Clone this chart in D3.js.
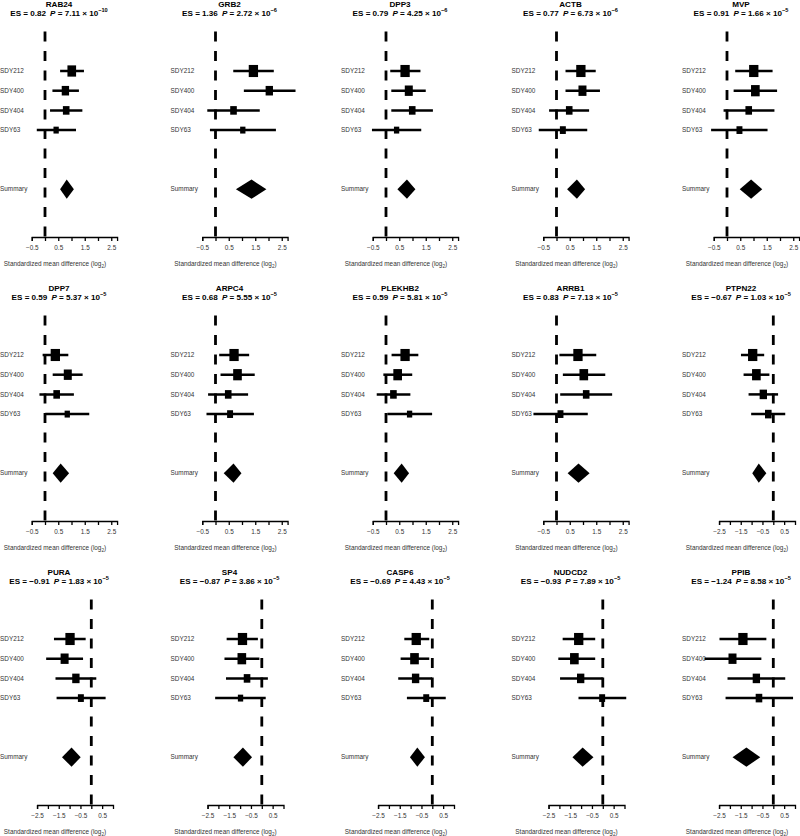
<!DOCTYPE html>
<html><head><meta charset="utf-8">
<script src="https://cdn.jsdelivr.net/npm/d3@7"></script>
<style>body{margin:0;background:#fff} svg{display:block}</style>
</head><body>
<svg id="chart" width="800" height="836"></svg>
<script>
// ---------------- DATA ----------------
const genes = ["RAB24","GRB2","DPP3","ACTB","MVP","DPP7","ARPC4","PLEKHB2","ARRB1","PTPN22","PURA","SP4","CASP6","NUDCD2","PPIB"];
const effectSizes = [0.82,1.36,0.79,0.77,0.91,0.59,0.68,0.59,0.83,-0.67,-0.91,-0.87,-0.69,-0.93,-1.24];
const pMantissa = ["7.11","2.72","4.25","6.73","1.66","5.37","5.55","5.81","7.13","1.03","1.83","3.86","4.43","7.89","8.58"];
const pExponent = [-10,-6,-6,-6,-5,-5,-5,-5,-5,-5,-5,-5,-5,-5,-5];
const studies = ["SDY212","SDY400","SDY404","SDY63"];
const summaryLabel = "Summary";
const estimates = [
  [1.01,0.77,0.80,0.42],
  [1.43,2.03,0.68,1.03],
  [0.72,0.86,0.99,0.40],
  [0.92,0.98,0.48,0.24],
  [1.01,1.07,0.82,0.47],
  [0.39,0.86,0.44,0.84],
  [0.70,0.83,0.48,0.55],
  [0.72,0.44,0.28,0.89],
  [0.81,1.03,1.12,0.15],
  [-0.95,-0.78,-0.46,-0.23],
  [-0.98,-1.23,-0.71,-0.48],
  [-0.89,-0.92,-0.68,-0.98],
  [-0.74,-0.82,-0.77,-0.28],
  [-1.11,-1.31,-1.02,-0.03],
  [-1.40,-1.88,-0.78,-0.66]
];
const ciLower = [
  [0.57,0.28,0.19,-0.31],
  [0.67,1.07,-0.31,-0.21],
  [0.16,0.20,0.20,-0.53],
  [0.34,0.34,-0.28,-0.67],
  [0.31,0.25,-0.13,-0.60],
  [-0.09,0.29,-0.21,0.01],
  [0.14,0.19,-0.28,-0.34],
  [0.21,-0.10,-0.35,0.05],
  [0.11,0.24,0.14,-0.87],
  [-1.49,-1.37,-1.14,-1.02],
  [-1.72,-2.08,-1.65,-1.60],
  [-1.62,-1.72,-1.65,-2.15],
  [-1.29,-1.46,-1.57,-1.17],
  [-1.85,-2.05,-1.97,-1.12],
  [-2.48,-3.17,-2.11,-2.20]
];
const ciUpper = [
  [1.47,1.28,1.41,1.17],
  [2.20,3.02,1.67,2.28],
  [1.30,1.50,1.77,1.33],
  [1.48,1.64,1.23,1.16],
  [1.72,1.89,1.79,1.53],
  [0.88,1.42,1.09,1.67],
  [1.27,1.48,1.23,1.45],
  [1.22,0.99,0.92,1.74],
  [1.50,1.84,2.10,1.18],
  [-0.42,-0.18,0.22,0.55],
  [-0.26,-0.38,0.23,0.66],
  [-0.18,-0.11,0.28,0.18],
  [-0.14,-0.14,-0.01,0.62],
  [-0.35,-0.35,0.00,1.08],
  [-0.32,-0.55,0.55,0.91]
];
const boxWeights = [
  [0.93,0.79,0.71,0.57],
  [1.00,0.79,0.71,0.57],
  [1.00,0.86,0.71,0.57],
  [1.00,0.86,0.71,0.64],
  [1.00,0.93,0.71,0.64],
  [1.00,0.86,0.71,0.57],
  [1.00,0.93,0.71,0.64],
  [1.00,0.93,0.71,0.57],
  [1.00,0.93,0.71,0.64],
  [1.00,0.93,0.79,0.71],
  [1.00,0.86,0.79,0.64],
  [1.00,0.93,0.71,0.57],
  [1.00,0.93,0.79,0.64],
  [1.00,0.93,0.79,0.64],
  [1.00,0.86,0.79,0.71]
];
const summaryLower = [0.57,0.77,0.43,0.40,0.48,0.29,0.31,0.29,0.42,-0.97,-1.35,-1.31,-1.03,-1.40,-1.88];
const summaryUpper = [1.09,1.92,1.11,1.08,1.33,0.91,0.98,0.87,1.25,-0.32,-0.49,-0.45,-0.34,-0.43,-0.60];
const posDomain = [-0.5, 2.72];
const negDomain = [-2.5, 1.0];
const posTicks = [-0.5,0,0.5,1,1.5,2,2.5];
const negTicks = [-2.5,-2,-1.5,-1,-0.5,0,0.5];
const posTickLabels = [-0.5,0.5,1.5,2.5];
const negTickLabels = [-2.5,-1.5,-0.5,0.5];
const xAxisTitle = "Standardized mean difference (log";

// ---------------- LAYOUT ----------------
const svg = d3.select("#chart");
const colPitch = 170.5, rowPitch = 284;
const FONT = "'Liberation Sans', Arial, Helvetica, sans-serif";
const fmt = v => (v < 0 ? "\u2212" : "") + Math.abs(v).toFixed(1);
const fmt2 = v => (v < 0 ? "\u2212" : "") + Math.abs(v).toFixed(2);
const yScale = d3.scaleLinear().domain([0, 7]).range([51.3, 51.3 + 19.7 * 7]);
const boxScale = d3.scaleLinear().domain([0, 1]).range([0, 9.3]);
const axisY = 237;

genes.forEach((gene, g) => {
  const col = g % 5, row = Math.floor(g / 5);
  const neg = effectSizes[g] < 0;
  const gp = svg.append("g").attr("transform", `translate(${col * colPitch},${row * rowPitch})`);
  const x = neg
    ? d3.scaleLinear().domain(negDomain).range([91.3 - 2.5 * 21.7, 91.3 + 1.0 * 21.7])
    : d3.scaleLinear().domain(posDomain).range([45 - 0.5 * 26.5, 45 + 2.72 * 26.5]);
  const ticks = neg ? negTicks : posTicks;
  const tickLabels = neg ? negTickLabels : posTickLabels;

  // titles
  gp.append("text").attr("x", 59).attr("y", 6.5).attr("text-anchor", "middle")
    .attr("font-family", FONT).attr("font-weight", "bold").attr("font-size", 8.1).attr("fill", "#000")
    .text(gene);
  const t2 = gp.append("text").attr("x", 59).attr("y", 15.5).attr("text-anchor", "middle")
    .attr("font-family", FONT).attr("font-weight", "bold").attr("font-size", 8.1).attr("fill", "#000");
  t2.append("tspan").text("ES = " + fmt2(effectSizes[g]));
  t2.append("tspan").attr("dx", 4).attr("font-style", "italic").text("P");
  t2.append("tspan").text(" = " + pMantissa[g] + " \u00d7 10");
  t2.append("tspan").attr("dy", -3.2).attr("font-size", 5.6).text("\u2212" + Math.abs(pExponent[g]));

  // zero dashed line
  gp.append("line").attr("x1", x(0)).attr("x2", x(0)).attr("y1", yScale(-1)).attr("y2", axisY)
    .attr("stroke", "#000").attr("stroke-width", 2.8).attr("stroke-dasharray", "10,9.5");

  // study rows
  studies.forEach((s, i) => {
    const yy = yScale(i + 1);
    gp.append("text").attr("x", 0).attr("y", yy).attr("dy", "0.35em")
      .attr("font-family", FONT).attr("font-size", 6.4).attr("fill", "#333").text(s);
    gp.append("line").attr("x1", x(ciLower[g][i])).attr("x2", x(ciUpper[g][i]))
      .attr("y1", yy).attr("y2", yy).attr("stroke", "#000").attr("stroke-width", 2.5);
    const w = boxScale(boxWeights[g][i]), h = w * 1.3;
    gp.append("rect").attr("x", x(estimates[g][i]) - w / 2).attr("y", yy - h / 2)
      .attr("width", w).attr("height", h).attr("fill", "#000");
  });

  // summary
  const ys = yScale(7);
  gp.append("text").attr("x", 0).attr("y", ys).attr("dy", "0.35em")
    .attr("font-family", FONT).attr("font-size", 6.4).attr("fill", "#333").text(summaryLabel);
  const dh = 9.6;
  gp.append("path")
    .attr("d", `M${x(summaryLower[g])},${ys} L${x(effectSizes[g])},${ys - dh} L${x(summaryUpper[g])},${ys} L${x(effectSizes[g])},${ys + dh} Z`)
    .attr("fill", "#000");

  // axis
  const ax = gp.append("g").attr("transform", `translate(0,${axisY})`)
    .call(d3.axisBottom(x).tickValues(ticks).tickSize(4).tickSizeOuter(4)
      .tickFormat(d => tickLabels.includes(d) ? fmt(d) : ""));
  ax.select(".domain").attr("stroke", "#000").attr("stroke-width", 1.3);
  ax.selectAll(".tick line").attr("stroke", "#000").attr("stroke-width", 1.3);
  ax.selectAll(".tick text").attr("y", 11).attr("dy", "0.35em")
    .attr("font-family", FONT).attr("font-size", 6.4).attr("fill", "#333");

  // x axis title
  const xt = gp.append("text").attr("x", 55).attr("y", 264).attr("dy", "0.35em").attr("text-anchor", "middle")
    .attr("font-family", FONT).attr("font-size", 6.4).attr("fill", "#333");
  xt.append("tspan").text(xAxisTitle);
  xt.append("tspan").attr("dy", 1.8).attr("font-size", 4.6).text("2");
  xt.append("tspan").attr("dy", -1.8).text(")");
});
</script>
</body></html>
